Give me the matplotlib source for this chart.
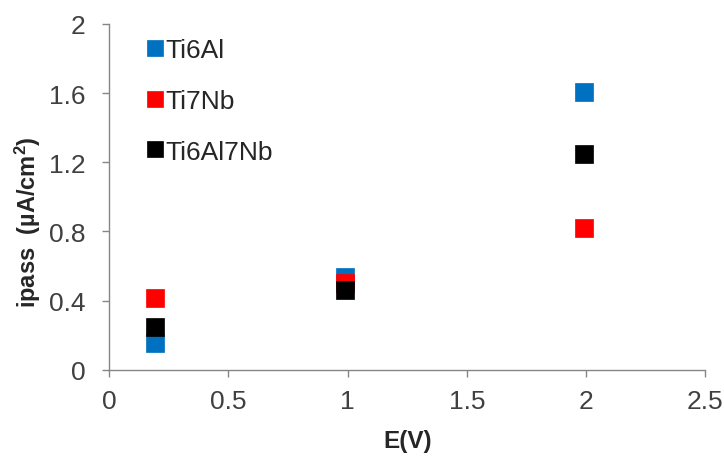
import matplotlib
matplotlib.use("Agg")
import matplotlib.pyplot as plt

plt.rcParams['font.family'] = ['Liberation Sans', 'DejaVu Sans']
plt.rcParams['mathtext.fontset'] = 'custom'
plt.rcParams['mathtext.rm'] = 'Liberation Sans'
plt.rcParams['mathtext.bf'] = 'Liberation Sans:bold'

# Passive current density vs applied potential
series = ["Ti6Al", "Ti7Nb", "Ti6Al7Nb"]
E_ti6al = [0.19, 0.99, 1.99]
i_ti6al = [0.155, 0.535, 1.607]
E_ti7nb = [0.19, 0.99, 1.99]
i_ti7nb = [0.416, 0.50, 0.82]
E_ti6al7nb = [0.19, 0.99, 1.99]
i_ti6al7nb = [0.245, 0.463, 1.248]
colors = ["#0070C0", "#FF0000", "#000000"]

x_ticks = [0, 0.5, 1, 1.5, 2, 2.5]
x_ticklabels = ["0", "0.5", "1", "1.5", "2", "2.5"]
y_ticks = [0, 0.4, 0.8, 1.2, 1.6, 2.0]
y_ticklabels = ["0", "0.4", "0.8", "1.2", "1.6", "2"]

fig = plt.figure(figsize=(7.24, 4.60), dpi=100)
ax = fig.add_axes([0.151, 0.194, 0.823, 0.752])

for name, xs, ys, c in zip(series,
                           [E_ti6al, E_ti7nb, E_ti6al7nb],
                           [i_ti6al, i_ti7nb, i_ti6al7nb],
                           colors):
    ax.plot(xs, ys, linestyle='none', marker='s', markersize=13,
            color=c, markeredgecolor=c, markeredgewidth=0.5, label=name)

ax.set_xlim(0, 2.5)
ax.set_ylim(0, 2)
ax.set_xticks(x_ticks)
ax.set_xticklabels(x_ticklabels)
ax.set_yticks(y_ticks)
ax.set_yticklabels(y_ticklabels)

spine_col = "#868686"
for s in ['top', 'right']:
    ax.spines[s].set_visible(False)
for s in ['left', 'bottom']:
    ax.spines[s].set_color(spine_col)
    ax.spines[s].set_linewidth(1.0)
ax.tick_params(axis='both', direction='out', length=5, width=1.0,
               color=spine_col, labelsize=19, labelcolor="#404040")
ax.tick_params(axis='x', pad=9)
ax.tick_params(axis='y', pad=12)

fig.text(407.5 / 724, 1 - 441.5 / 460, "E(V)", fontsize=17.5, fontweight='bold',
         color="#262626", ha='center', va='center')
fig.text(27.5 / 724, 1 - 222 / 460, r"ipass  (µA/cm$\mathbf{^2}$)", fontsize=17,
         fontweight='bold', color="#262626", rotation=90,
         ha='center', va='center')

leg = ax.legend(loc='upper left', bbox_to_anchor=(0.045, 0.99), frameon=False,
                fontsize=19, handlelength=0.6, handletextpad=0.12,
                labelspacing=1.02, markerscale=0.88, borderaxespad=0)
for t in leg.get_texts():
    t.set_color("#262626")

fig.savefig("out.png", dpi=100, facecolor='white')
